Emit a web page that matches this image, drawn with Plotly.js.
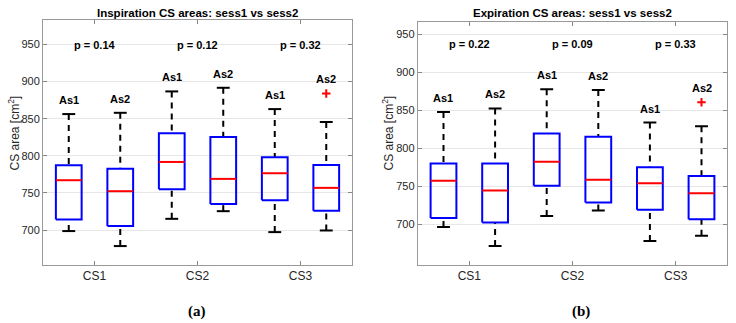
<!DOCTYPE html>
<html>
<head>
<meta charset="utf-8">
<script src="https://cdn.plot.ly/plotly-3.0.1.min.js"></script>
<style>
  html, body { margin: 0; padding: 0; background: #fff; }
  #chart { width: 736px; height: 323px; }
</style>
</head>
<body>
<div id="chart"></div>
<script>
// Groups: two sessions per cross-section, positions 1..6
const groupPos = [1, 2, 3, 4, 5, 6];
const groupLabels = ['As1', 'As2', 'As1', 'As2', 'As1', 'As2'];
const categories = ['CS1', 'CS2', 'CS3'];
const categoryPos = [1.5, 3.5, 5.5];

// Inspiration box statistics (cm^2)
const inspLower  = [698.7, 678.5, 715.2, 725.5, 697.3, 699.5];
const inspQ1     = [714.3, 705.4, 755.1, 735.3, 740.3, 726.0];
const inspMedian = [767.2, 752.4, 791.8, 769.0, 776.6, 756.9];
const inspQ3     = [787.4, 782.8, 830.4, 825.4, 798.1, 787.8];
const inspUpper  = [856.3, 858.0, 886.8, 891.7, 863.0, 845.6];
const inspOutPos = [6];
const inspOutVal = [884.1];
const inspP      = ['p = 0.14', 'p = 0.12', 'p = 0.32'];

// Expiration box statistics (cm^2)
const expLower  = [696.0, 671.0, 710.5, 718.0, 677.6, 684.6];
const expQ1     = [707.9, 702.2, 750.5, 728.6, 718.9, 706.2];
const expMedian = [757.1, 744.4, 782.1, 758.4, 754.0, 740.5];
const expQ3     = [780.0, 780.0, 819.5, 815.1, 775.1, 763.3];
const expUpper  = [848.0, 852.5, 877.9, 877.0, 834.0, 829.2];
const expOutPos = [6];
const expOutVal = [860.8];
const expP      = ['p = 0.22', 'p = 0.09', 'p = 0.33'];

const BOX_HALF = 0.25;
const CAP_HALF = 0.125;

function boxTraces(ax, lower, q1, med, q3, upper, outPos, outVal) {
  const xa = ax === 1 ? 'x' : 'x2';
  const ya = ax === 1 ? 'y' : 'y2';
  const bx = [], by = [], mx = [], my = [], wx = [], wy = [], cx = [], cy = [];
  groupPos.forEach((p, i) => {
    bx.push(p - BOX_HALF, p + BOX_HALF, p + BOX_HALF, p - BOX_HALF, p - BOX_HALF, null);
    by.push(q1[i], q1[i], q3[i], q3[i], q1[i], null);
    mx.push(p - BOX_HALF, p + BOX_HALF, null);
    my.push(med[i], med[i], null);
    wx.push(p, p, null, p, p, null);
    wy.push(upper[i], q3[i], null, lower[i], q1[i], null);
    cx.push(p - CAP_HALF, p + CAP_HALF, null, p - CAP_HALF, p + CAP_HALF, null);
    cy.push(upper[i], upper[i], null, lower[i], lower[i], null);
  });
  const common = { xaxis: xa, yaxis: ya, mode: 'lines', hoverinfo: 'skip', showlegend: false };
  return [
    Object.assign({ x: wx, y: wy, line: { color: '#000', width: 2, dash: '6px,5px' } }, common),
    Object.assign({ x: cx, y: cy, line: { color: '#000', width: 2 } }, common),
    Object.assign({ x: bx, y: by, line: { color: '#0000ff', width: 2 } }, common),
    Object.assign({ x: mx, y: my, line: { color: '#ff0000', width: 2 } }, common),
    { x: outPos, y: outVal, xaxis: xa, yaxis: ya, mode: 'markers', showlegend: false, hoverinfo: 'skip',
      marker: { symbol: 'cross-thin', size: 6, line: { color: '#ff0000', width: 2 } } }
  ];
}

const boldFont = { size: 11, color: '#000', family: 'Liberation Sans, Arial, sans-serif', weight: 'bold' };
const titleFont = { size: 11.5, color: '#000', family: 'Liberation Sans, Arial, sans-serif', weight: 'bold' };

function groupAnnotations(ax, upper, outPos, outVal, pTexts, pY) {
  const xa = ax === 1 ? 'x' : 'x2';
  const ya = ax === 1 ? 'y' : 'y2';
  const anns = [];
  groupPos.forEach((p, i) => {
    let top = upper[i];
    outPos.forEach((op, k) => { if (op === p) top = Math.max(top, outVal[k]); });
    anns.push({ xref: xa, yref: ya, x: p, y: top, yshift: 14, text: groupLabels[i],
      xanchor: 'center', yanchor: 'middle', showarrow: false, font: boldFont });
  });
  categoryPos.forEach((c, i) => {
    anns.push({ xref: xa, yref: ya, x: c, y: pY, text: pTexts[i], showarrow: false,
      xanchor: 'center', yanchor: 'middle', font: boldFont });
  });
  return anns;
}

const traces = [].concat(
  boxTraces(1, inspLower, inspQ1, inspMedian, inspQ3, inspUpper, inspOutPos, inspOutVal),
  boxTraces(2, expLower, expQ1, expMedian, expQ3, expUpper, expOutPos, expOutVal)
);

const W = 736, H = 323;
const tickFont = { size: 11, color: '#262626', family: 'Liberation Sans, Arial, sans-serif' };

function xAxis(domain, anchor) {
  return {
    domain: domain, anchor: anchor, range: [0.5, 6.5],
    tickvals: categoryPos, ticktext: categories,
    ticks: 'inside', ticklen: 4, tickcolor: '#888', mirror: 'ticks',
    showline: true, linecolor: '#999', linewidth: 1,
    showgrid: false, zeroline: false, fixedrange: true,
    tickfont: { size: 12, color: '#262626', family: 'Liberation Sans, Arial, sans-serif' }
  };
}
function yAxis(domain, anchor, range) {
  return {
    domain: domain, anchor: anchor, range: range,
    tickvals: [700, 750, 800, 850, 900, 950],
    ticks: 'inside', ticklen: 4, tickcolor: '#888', mirror: 'ticks',
    showline: true, linecolor: '#999', linewidth: 1,
    showgrid: true, gridcolor: '#e6e6e6', gridwidth: 1, zeroline: false, fixedrange: true,
    tickfont: tickFont
  };
}

const yTitleFont = { size: 12, color: '#262626', family: 'Liberation Sans, Arial, sans-serif' };
const capFont = { size: 15, color: '#000', family: 'Liberation Serif, DejaVu Serif, serif', weight: 'bold' };

function paperText(x, y, text, font, extra) {
  return Object.assign({ xref: 'paper', yref: 'paper', x: x / W, y: 1 - y / H, text: text,
    xanchor: 'center', yanchor: 'middle', showarrow: false, font: font }, extra || {});
}

const annotations = [].concat(
  groupAnnotations(1, inspUpper, inspOutPos, inspOutVal, inspP, 950),
  groupAnnotations(2, expUpper, expOutPos, expOutVal, expP, 937),
  [
    paperText(197.5, 12.7, 'Inspiration CS areas: sess1 vs sess2', titleFont),
    paperText(572.4, 12.7, 'Expiration CS areas: sess1 vs sess2', titleFont),
    paperText(13, 133.5, 'CS area [cm<sup>2</sup>]', yTitleFont, { textangle: -90 }),
    paperText(387, 133.5, 'CS area [cm<sup>2</sup>]', yTitleFont, { textangle: -90 }),
    paperText(196.7, 311.7, '(a)', capFont),
    paperText(581, 311.7, '(b)', capFont)
  ]
);

const layout = {
  width: W, height: H,
  margin: { l: 0, r: 0, t: 0, b: 0 },
  paper_bgcolor: '#fff', plot_bgcolor: '#fff',
  showlegend: false,
  xaxis: xAxis([43 / W, 352 / W], 'y'),
  yaxis: yAxis([1 - 265 / H, 1 - 20 / H], 'x', [653, 983]),
  xaxis2: xAxis([417.7 / W, 727.3 / W], 'y2'),
  yaxis2: yAxis([1 - 265 / H, 1 - 21.7 / H], 'x2', [646, 967]),
  annotations: annotations
};

Plotly.newPlot('chart', traces, layout, { staticPlot: true, displayModeBar: false });
</script>
</body>
</html>
